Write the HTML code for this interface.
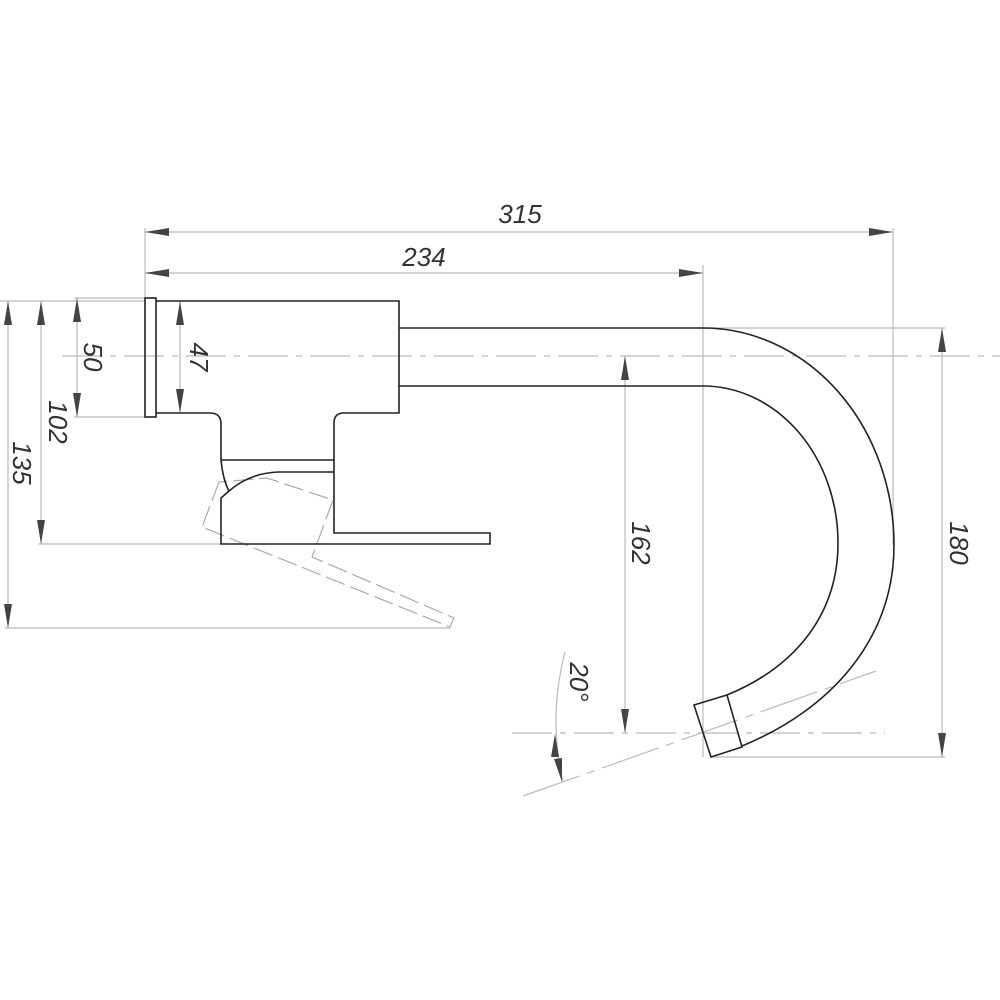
<!DOCTYPE html>
<html><head><meta charset="utf-8"><style>
html,body{margin:0;padding:0;background:#fff}
svg{display:block}
text{font-family:"Liberation Sans",sans-serif;font-style:italic;font-size:26px;fill:#333}
</style></head><body>
<svg width="1000" height="1000" viewBox="0 0 1000 1000" xmlns="http://www.w3.org/2000/svg">
<defs>
<marker id="a" viewBox="0 0 24 8" refX="24" refY="4" markerWidth="24" markerHeight="8" markerUnits="userSpaceOnUse" orient="auto-start-reverse"><path d="M24,4 L0,0 L0,8Z" fill="#444"/></marker>
</defs>
<g stroke="#bbb" stroke-width="1.2" fill="none">
<line x1="145" y1="228" x2="145" y2="298"/>
<line x1="893" y1="228" x2="893" y2="545"/>
<line x1="703" y1="265" x2="703" y2="757"/>
<line x1="0" y1="301" x2="145" y2="301"/>
<line x1="74" y1="298" x2="145" y2="298"/>
<line x1="74" y1="417" x2="145" y2="417"/>
<line x1="38" y1="544" x2="221" y2="544"/>
<line x1="5" y1="628" x2="450" y2="628"/>
<line x1="703" y1="328" x2="945" y2="328"/>
<line x1="711" y1="757" x2="945" y2="757"/>
<line x1="145" y1="232" x2="893" y2="232" marker-start="url(#a)" marker-end="url(#a)"/>
<line x1="145" y1="273" x2="703" y2="273" marker-start="url(#a)" marker-end="url(#a)"/>
<line x1="8" y1="301" x2="8" y2="628" marker-start="url(#a)" marker-end="url(#a)"/>
<line x1="41" y1="301" x2="41" y2="544" marker-start="url(#a)" marker-end="url(#a)"/>
<line x1="77" y1="298" x2="77" y2="417" marker-start="url(#a)" marker-end="url(#a)"/>
<line x1="180" y1="301" x2="180" y2="413" marker-start="url(#a)" marker-end="url(#a)"/>
<line x1="625" y1="356" x2="625" y2="733" marker-start="url(#a)" marker-end="url(#a)"/>
<line x1="942" y1="328" x2="942" y2="757" marker-start="url(#a)" marker-end="url(#a)"/>
<line x1="62" y1="356" x2="1000" y2="356" stroke-dasharray="40,8,6,8"/>
<line x1="512" y1="733" x2="885" y2="733" stroke-dasharray="40,8,6,8"/>
<line x1="523" y1="796" x2="876" y2="671" stroke-dasharray="60,8,8,8"/>
<path d="M565,652 Q548,718 563,782"/>
<path d="M219,482 L202,527 L450,627 L454,618 L312,557 L333,500 L267,478 Z" stroke="#aaa" stroke-dasharray="20,6"/>
</g>
<path d="M555,734 L551,757 L559,757Z" fill="#444"/>
<path d="M562,782 L554,759 L562,758Z" fill="#444"/>
<g stroke="#222" stroke-width="1.6" fill="none">
<rect x="145" y="298" width="11" height="119"/>
<path d="M156,301 H399 V413 H344 Q334,413 334,423 V533 H490 V544 H221 V498 L229,491"/>
<path d="M156,413 H210 Q221,413 221,424 V460 Q223,480 229,491 Q250,473 278,472 H334"/>
<line x1="221" y1="460" x2="334" y2="460"/>
<path d="M399,328 H703 A191 217 0 0 1 894 545 C894,640 830,710 742,746"/>
<path d="M399,386 H703 A135 157 0 0 1 838 543 C838,610 800,665 727,695"/>
<path d="M694,705 L727,695 L742,747 L711,757 Z"/>
</g>
<text x="520" y="223" text-anchor="middle">315</text>
<text x="424" y="266" text-anchor="middle">234</text>
<text transform="translate(84,357) rotate(90)" text-anchor="middle">50</text>
<text transform="translate(190,357) rotate(90)" text-anchor="middle">47</text>
<text transform="translate(49,422) rotate(90)" text-anchor="middle">102</text>
<text transform="translate(13,463) rotate(90)" text-anchor="middle">135</text>
<text transform="translate(632,543) rotate(90)" text-anchor="middle">162</text>
<text transform="translate(950,543) rotate(90)" text-anchor="middle">180</text>
<text transform="translate(570,682) rotate(90)" text-anchor="middle">20°</text>
</svg>
</body></html>
